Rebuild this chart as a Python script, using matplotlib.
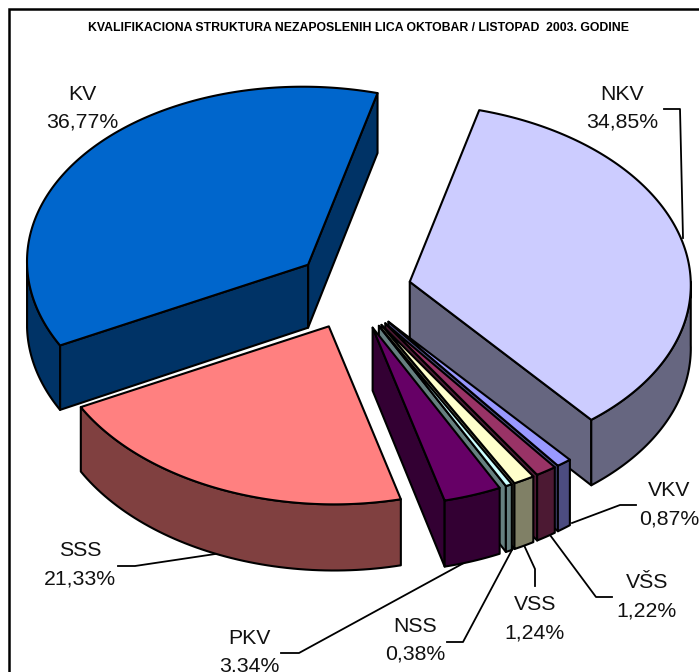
"""Qualification structure of the unemployed, exploded 3D pie."""

import matplotlib
matplotlib.use("Agg")
import matplotlib.pyplot as plt
import numpy as np
from matplotlib.patches import Polygon

plt.rcParams["font.family"] = ["Liberation Sans", "DejaVu Sans"]

TITLE = "KVALIFIKACIONA STRUKTURA NEZAPOSLENIH LICA OKTOBAR / LISTOPAD  2003. GODINE"

# clockwise from the first slice
categories = ["NKV", "VKV", "VŠS", "VSS", "NSS", "PKV", "SSS", "KV"]
shares = [34.85, 0.87, 1.22, 1.24, 0.38, 3.34, 21.33, 36.77]
top_colors = ["#CCCCFF", "#9999FF", "#993366", "#FFFFCC", "#CCFFFF", "#660066", "#FF8080", "#0066CC"]
wall_colors = ["#666680", "#4C4C80", "#4C1933", "#808066", "#668080", "#330033", "#804040", "#003366"]

# pixel layout of the projected pie
START = 15.4
CX, CY = 353, 290
RX, RY = 281, 178
DEPTH = 63
EXPLODE_X, EXPLODE_Y = 58, 40
SKEW = 0.03
PERSPECTIVE = 0.05

# label centre, then leader polyline
label_pos = {
    "NKV": (622, 108), "VKV": (669, 505), "VŠS": (647, 597), "VSS": (535, 619),
    "NSS": (415, 640), "PKV": (249, 652), "SSS": (80, 565), "KV": (82, 108),
}
leaders = {
    "NKV": [(664, 109), (680, 109), (683, 238)],
    "VKV": [(572, 523), (620, 505), (636, 505)],
    "VŠS": [(550, 535), (596, 597), (612, 597)],
    "VSS": [(523, 543), (535, 569), (535, 586)],
    "NSS": [(513, 548), (463, 642), (447, 642)],
    "PKV": [(473, 558), (299, 653), (281, 653)],
    "SSS": [(222, 553), (135, 566), (118, 566)],
}
# back slices first, then right to left across the front
draw_order = ["NKV", "KV", "VKV", "VŠS", "VSS", "NSS", "PKV", "SSS"]


def project(theta, cx, cy, r=1.0, z=0.0):
    t = np.radians(theta)
    dy = -RY * r * np.cos(t)
    k = 1 + PERSPECTIVE * dy / RY
    return np.column_stack((cx + RX * r * np.sin(t) + SKEW * dy, cy + dy + z * DEPTH * k))


def add_poly(ax, pts, color):
    ax.add_patch(Polygon(pts, closed=True, facecolor=color, edgecolor="black",
                         linewidth=1.5, joinstyle="round", zorder=2))


def draw_slice(ax, a0, a1, top, wall):
    mid = np.radians((a0 + a1) / 2)
    cx = CX + EXPLODE_X * np.sin(mid)
    cy = CY - EXPLODE_Y * np.cos(mid)
    apex = np.array([0.0])

    # radial walls that face the viewer
    for angle, visible in ((a1, np.sin(np.radians(a1)) > 0), (a0, np.sin(np.radians(a0)) < 0)):
        if visible:
            rim_top = project(np.array([angle]), cx, cy)
            rim_bot = project(np.array([angle]), cx, cy, z=1)
            add_poly(ax, np.vstack((project(apex, cx, cy, r=0), rim_top, rim_bot,
                                    project(apex, cx, cy, r=0, z=1))), wall)

    # outer wall, front half of the rim only
    lo, hi = max(a0, 90), min(a1, 270)
    if lo < hi:
        arc = np.linspace(lo, hi, 60)
        add_poly(ax, np.vstack((project(arc, cx, cy), project(arc[::-1], cx, cy, z=1))), wall)

    arc = np.linspace(a0, a1, 160)
    add_poly(ax, np.vstack((project(apex, cx, cy, r=0), project(arc, cx, cy))), top)


fig = plt.figure(figsize=(6.99, 6.72), dpi=100)
ax = fig.add_axes([0, 0, 1, 1])
ax.set_xlim(0, 699)
ax.set_ylim(672, 0)
ax.axis("off")

edges = START + np.concatenate(([0], np.cumsum(shares))) * 3.6
spans = {c: (edges[i], edges[i + 1]) for i, c in enumerate(categories)}
for name in draw_order:
    i = categories.index(name)
    draw_slice(ax, *spans[name], top_colors[i], wall_colors[i])

# chart frame, cropped on the right and at the bottom
ax.plot([9, 9, 699], [672, 9, 9], color="black", lw=1.8, solid_joinstyle="miter")

ax.text(358.5, 28, TITLE, ha="center", va="center", fontsize=8.8, fontweight="bold")

# leaders sit under the pie so they stop at its rim
for name, pts in leaders.items():
    xs, ys = zip(*pts)
    ax.plot(xs, ys, color="black", lw=1.3, zorder=1)

for name, share in zip(categories, shares):
    x, y = label_pos[name]
    txt = f"{name}\n{share:.2f}%".replace(".", ",")
    ax.text(x, y, txt, ha="center", va="center", fontsize=15.3, linespacing=1.6, color="#111111")

fig.savefig("out.png", dpi=100)
